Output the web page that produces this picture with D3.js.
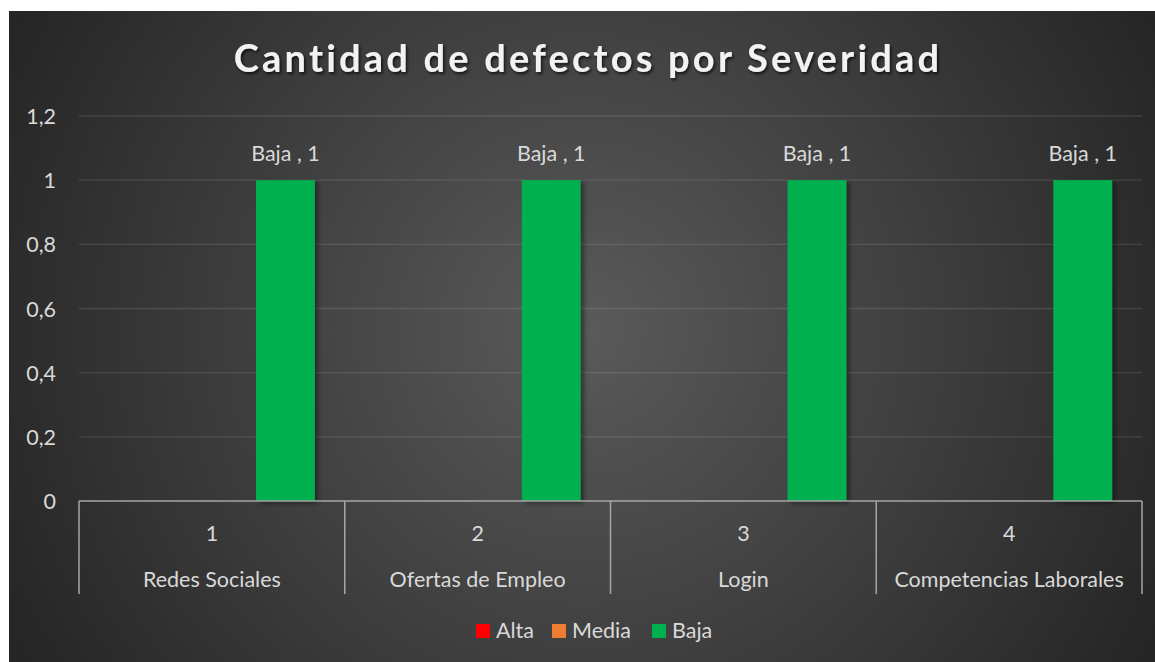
<!DOCTYPE html>
<html>
<head>
<meta charset="utf-8">
<script src="https://cdn.jsdelivr.net/npm/d3@7"></script>
<style>
    body { margin: 0; background: #ffffff; }
    svg { display: block; font-family: Lato, "Open Sans", sans-serif; }
</style>
</head>
<body>
<svg id="chart" width="1155" height="662"></svg>
<script>
// data
const categories = ['Redes Sociales', 'Ofertas de Empleo', 'Login', 'Competencias Laborales'];
const categoryNumbers = ['1', '2', '3', '4'];
const series = ['Alta', 'Media', 'Baja'];
const alta = [0, 0, 0, 0];
const media = [0, 0, 0, 0];
const baja = [1, 1, 1, 1];
const yTicks = [0, 0.2, 0.4, 0.6, 0.8, 1, 1.2];
const seriesColors = ['#ff0000', '#ed7d31', '#00b050'];

const width = 1155, height = 662;
const plot = {left: 79, right: 1142, top: 116, bottom: 501};
const fontSize = 21.5;

const svg = d3.select('#chart');
const defs = svg.append('defs');

// background gradient, lighter in the middle
const bg = defs.append('radialGradient')
    .attr('id', 'bgGrad')
    .attr('gradientUnits', 'userSpaceOnUse')
    .attr('cx', 585).attr('cy', 330).attr('r', 640);
bg.append('stop').attr('offset', '0%').attr('stop-color', '#5a5a5a');
bg.append('stop').attr('offset', '100%').attr('stop-color', '#262626');

const shadow = defs.append('filter').attr('id', 'barShadow')
    .attr('x', '-20%').attr('y', '-5%').attr('width', '150%').attr('height', '110%');
shadow.append('feDropShadow')
    .attr('dx', 3).attr('dy', 2).attr('stdDeviation', 2.5)
    .attr('flood-color', '#000').attr('flood-opacity', 0.45);

const titleShadow = defs.append('filter').attr('id', 'titleShadow')
    .attr('x', '-5%').attr('y', '-30%').attr('width', '110%').attr('height', '160%');
titleShadow.append('feDropShadow')
    .attr('dx', 1.5).attr('dy', 2).attr('stdDeviation', 1.5)
    .attr('flood-color', '#000').attr('flood-opacity', 0.7);

svg.append('rect')
    .attr('x', 9).attr('y', 11)
    .attr('width', width - 9).attr('height', height - 11)
    .attr('fill', 'url(#bgGrad)');

// title
svg.append('text')
    .attr('x', 588).attr('y', 72)
    .attr('text-anchor', 'middle')
    .attr('font-size', 38)
    .attr('font-weight', 'bold')
    .attr('letter-spacing', 3.2)
    .attr('fill', '#f2f2f2')
    .attr('filter', 'url(#titleShadow)')
    .text('Cantidad de defectos por Severidad');

// scales
const y = d3.scaleLinear().domain([0, 1.2]).range([plot.bottom, plot.top]);
const x0 = d3.scaleBand().domain(categories).range([plot.left, plot.right]);
const x1 = d3.scaleBand().domain(series).range([0, x0.bandwidth()])
    .paddingInner(0.2).paddingOuter(0.405);

// gridlines
svg.append('g')
    .selectAll('line')
    .data(yTicks.filter(d => d > 0))
    .join('line')
    .attr('x1', plot.left).attr('x2', plot.right)
    .attr('y1', d => y(d)).attr('y2', d => y(d))
    .attr('stroke', '#ffffff')
    .attr('stroke-opacity', 0.11)
    .attr('stroke-width', 1.3);

// y axis labels
const yAxis = d3.axisLeft(y)
    .tickValues(yTicks)
    .tickSize(0)
    .tickPadding(0)
    .tickFormat(d => d3.format('.1~f')(d).replace('.', ','));
const yG = svg.append('g')
    .attr('transform', 'translate(56,0)')
    .call(yAxis);
yG.select('.domain').remove();
yG.selectAll('text')
    .attr('font-size', fontSize)
    .attr('font-family', 'Lato, sans-serif')
    .attr('fill', '#d9d9d9')
    .attr('dy', '0.35em');

// bars
const rows = categories.map((c, i) => ({cat: c, values: [alta[i], media[i], baja[i]]}));
const groups = svg.append('g')
    .selectAll('g')
    .data(rows)
    .join('g')
    .attr('transform', d => 'translate(' + x0(d.cat) + ',0)');

groups.selectAll('rect')
    .data(d => d.values.map((v, j) => ({s: series[j], v: v, color: seriesColors[j]})))
    .join('rect')
    .filter(d => d.v > 0)
    .attr('x', d => x1(d.s))
    .attr('width', x1.bandwidth())
    .attr('y', d => y(d.v))
    .attr('height', d => y(0) - y(d.v))
    .attr('fill', d => d.color)
    .attr('filter', 'url(#barShadow)');

groups.selectAll('text.label')
    .data(d => d.values.map((v, j) => ({s: series[j], v: v})).filter(e => e.v > 0))
    .join('text')
    .attr('class', 'label')
    .attr('x', d => x1(d.s) + x1.bandwidth() / 2)
    .attr('y', d => y(d.v) - 19)
    .attr('text-anchor', 'middle')
    .attr('font-size', fontSize)
    .attr('fill', '#d9d9d9')
    .text(d => d.s + ' , ' + d.v);

// category axis with two label rows
const axisColor = '#a6a6a6';
const axisG = svg.append('g');
axisG.append('line')
    .attr('x1', plot.left).attr('x2', plot.right)
    .attr('y1', y(0)).attr('y2', y(0))
    .attr('stroke', axisColor).attr('stroke-width', 1.5);
const dividers = [plot.left].concat(categories.map(c => x0(c) + x0.bandwidth()));
axisG.selectAll('line.div')
    .data(dividers)
    .join('line')
    .attr('class', 'div')
    .attr('x1', d => d).attr('x2', d => d)
    .attr('y1', y(0)).attr('y2', 594)
    .attr('stroke', axisColor).attr('stroke-width', 1.5);

axisG.selectAll('text.num')
    .data(categories)
    .join('text')
    .attr('class', 'num')
    .attr('x', d => x0(d) + x0.bandwidth() / 2)
    .attr('y', 541)
    .attr('text-anchor', 'middle')
    .attr('font-size', fontSize)
    .attr('fill', '#d9d9d9')
    .text((d, i) => categoryNumbers[i]);

axisG.selectAll('text.cat')
    .data(categories)
    .join('text')
    .attr('class', 'cat')
    .attr('x', d => x0(d) + x0.bandwidth() / 2)
    .attr('y', 587)
    .attr('text-anchor', 'middle')
    .attr('font-size', fontSize)
    .attr('fill', '#d9d9d9')
    .text(d => d);

// legend
const legendX = [476, 552, 652];
const legend = svg.append('g')
    .selectAll('g')
    .data(series)
    .join('g')
    .attr('transform', (d, i) => 'translate(' + legendX[i] + ',624)');
legend.append('rect')
    .attr('width', 14).attr('height', 14)
    .attr('fill', (d, i) => seriesColors[i]);
legend.append('text')
    .attr('x', 20).attr('y', 14)
    .attr('font-size', fontSize)
    .attr('fill', '#d9d9d9')
    .text(d => d);
</script>
</body>
</html>
